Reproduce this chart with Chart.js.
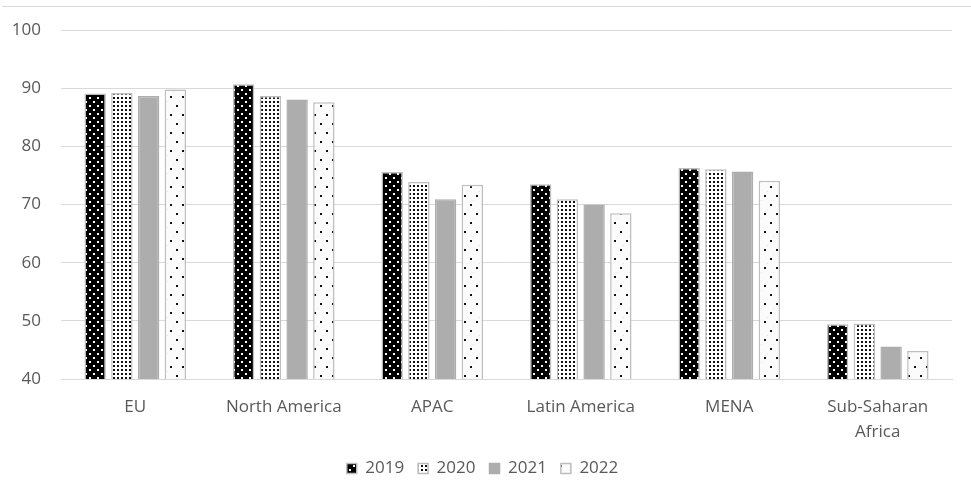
<!DOCTYPE html>
<html>
<head>
<meta charset="utf-8">
<script src="https://cdn.jsdelivr.net/npm/chart.js@4.4.1/dist/chart.umd.min.js"></script>
<style>
  html, body { margin: 0; padding: 0; background: #ffffff; }
  #wrap { position: relative; width: 971px; height: 484px; }
</style>
</head>
<body>
<div id="wrap"><canvas id="chart" width="971" height="484"></canvas></div>
<script>
// Regions on the category axis
const regions = ['EU', 'North America', 'APAC', 'Latin America', 'MENA', ['Sub-Saharan', 'Africa']];

// Index values per year
const values2019 = [89.1, 90.7, 75.6, 73.5, 76.3, 49.4];
const values2020 = [89.2, 88.7, 73.9, 70.9, 76.1, 49.5];
const values2021 = [88.7, 88.1, 70.9, 70.0, 75.7, 45.6];
const values2022 = [89.8, 87.6, 73.4, 68.5, 74.1, 44.8];

const years = ['2019', '2020', '2021', '2022'];

// Y axis range and step
const yMin = 40;
const yMax = 100;
const yStep = 10;

// Fill patterns, built on small tiles
function makePattern(w, h, paint) {
  const c = document.createElement('canvas');
  c.width = w; c.height = h;
  const g = c.getContext('2d');
  paint(g);
  return g.createPattern(c, 'repeat');
}

// black ground with white dots
const patDarkDots = makePattern(8, 8, g => {
  g.fillStyle = '#000000'; g.fillRect(0, 0, 8, 8);
  g.fillStyle = '#ffffff';
  g.fillRect(1, 1, 2, 2);
  g.fillRect(5, 5, 2, 2);
});

// white ground with dense small black dots
const patFineDots = makePattern(4, 4, g => {
  g.fillStyle = '#ffffff'; g.fillRect(0, 0, 4, 4);
  g.fillStyle = '#111111';
  g.fillRect(1, 1, 2, 2);
});

// pale ground with sparse black dots
const patSparseDots = makePattern(12, 18, g => {
  g.fillStyle = '#fbfbfb'; g.fillRect(0, 0, 12, 18);
  g.fillStyle = '#e6e6e6';
  g.fillRect(5, 2, 1, 1);
  g.fillRect(11, 11, 1, 1);
  g.fillStyle = '#111111';
  g.fillRect(2, 6, 2, 2);
  g.fillRect(8, 15, 2, 2);
});

const TEXT = '#595959';
const GRID = '#d9d9d9';
const EDGE = '#bdbdbd';
const FONT = "'Open Sans', 'Noto Sans', sans-serif";

// Thin rule along the top of the drawing
const topRule = {
  id: 'topRule',
  beforeDraw(chart) {
    const ctx = chart.ctx;
    ctx.save();
    ctx.strokeStyle = GRID;
    ctx.lineWidth = 1;
    ctx.beginPath();
    ctx.moveTo(2, 6.5);
    ctx.lineTo(chart.width, 6.5);
    ctx.stroke();
    ctx.restore();
  }
};

const common = { borderWidth: 1.5, borderColor: EDGE, categoryPercentage: 0.72, barPercentage: 0.8 };

new Chart(document.getElementById('chart'), {
  type: 'bar',
  data: {
    labels: regions,
    datasets: [
      Object.assign({ label: years[0], data: values2019, backgroundColor: patDarkDots }, common),
      Object.assign({ label: years[1], data: values2020, backgroundColor: patFineDots }, common),
      Object.assign({ label: years[2], data: values2021, backgroundColor: '#adadad' }, common, { borderColor: '#adadad' }),
      Object.assign({ label: years[3], data: values2022, backgroundColor: patSparseDots }, common)
    ]
  },
  options: {
    responsive: false,
    animation: false,
    layout: { padding: { left: 13, right: 19, top: 25, bottom: -3 } },
    plugins: {
      tooltip: { enabled: false },
      legend: {
        position: 'bottom',
        labels: {
          color: TEXT,
          font: { family: FONT, size: 17 },
          boxWidth: 10,
          boxHeight: 10,
          padding: 14
        }
      }
    },
    scales: {
      x: {
        grid: { display: false, drawTicks: false },
        border: { display: true, color: GRID, width: 1 },
        afterFit(scale) { scale.height = 67; },
        ticks: {
          color: TEXT,
          font: { family: FONT, size: 17, lineHeight: 1.45 },
          padding: 16,
          maxRotation: 0,
          autoSkip: false
        }
      },
      y: {
        min: yMin,
        max: yMax,
        grid: { color: GRID, lineWidth: 1, drawTicks: false },
        border: { display: false },
        afterFit(scale) { scale.width = 48; },
        ticks: {
          stepSize: yStep,
          color: TEXT,
          font: { family: FONT, size: 17 },
          padding: 20
        }
      }
    }
  },
  plugins: [topRule]
});
</script>
</body>
</html>
